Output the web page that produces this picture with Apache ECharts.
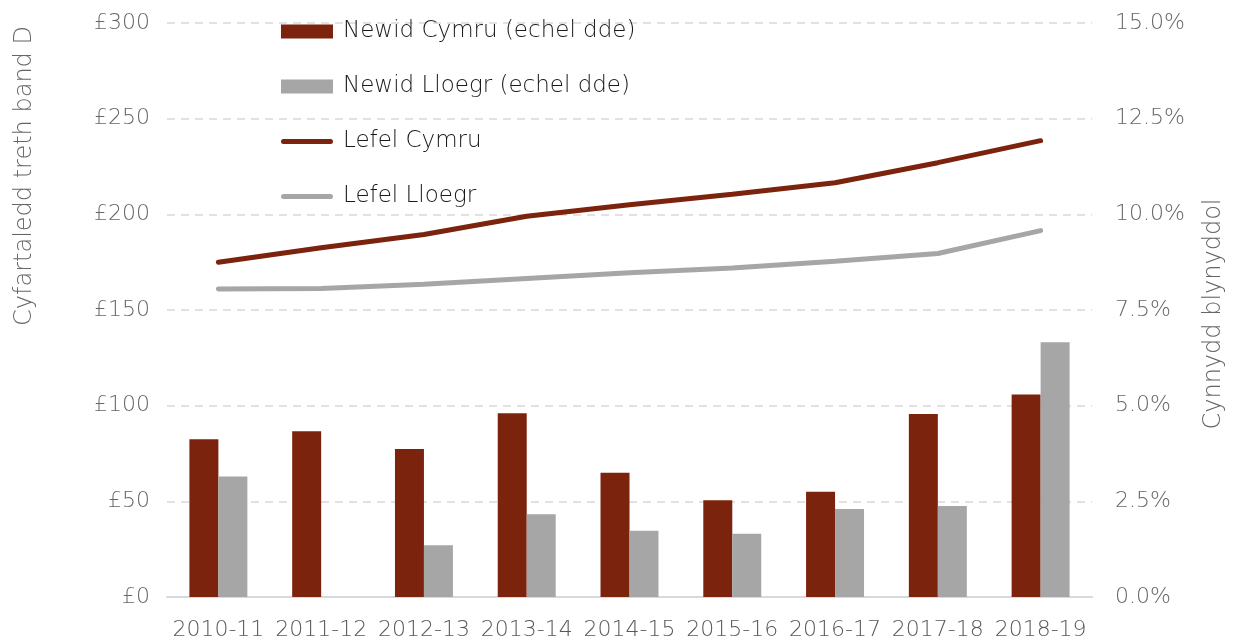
<!DOCTYPE html>
<html>
<head>
<meta charset="utf-8">
<script src="https://cdn.jsdelivr.net/npm/echarts@6/dist/echarts.min.js"></script>
<style>
  html, body { margin: 0; padding: 0; background: #fff; }
  #main { width: 1238px; height: 643px; }
</style>
</head>
<body>
<div id="main"></div>
<script>
const years = ['2010-11', '2011-12', '2012-13', '2013-14', '2014-15', '2015-16', '2016-17', '2017-18', '2018-19'];
// newid (%), echel dde
const changeWales = [4.12, 4.33, 3.87, 4.80, 3.25, 2.53, 2.75, 4.78, 5.29];
const changeEngland = [3.15, 0, 1.35, 2.16, 1.73, 1.65, 2.30, 2.38, 6.66];
// lefel (£), echel chwith
const levelWales = [175, 182.5, 189.5, 199, 205, 210.5, 216.5, 227, 238.5];
const levelEngland = [161, 161.2, 163.5, 166.5, 169.5, 172, 175.5, 179.5, 191.5];

const red = '#7B230C';
const grey = '#A6A6A6';
const font = '"DejaVu Sans", sans-serif';
const lineIcon = 'path://M0,0 L52,0 M2.5,4.5 L49.5,4.5 A2.5,2.5 0 0 1 49.5,9.5 L2.5,9.5 A2.5,2.5 0 0 1 2.5,4.5 Z M0,14 L52,14';

var chart = echarts.init(document.getElementById('main'));

chart.setOption({
    animation: false,
    textStyle: { fontFamily: font },
    grid: { left: 167, right: 146, top: 23, bottom: 46 },
    legend: {
        orient: 'vertical',
        left: 276,
        top: 15,
        itemWidth: 52,
        itemHeight: 14,
        itemGap: 32,
        itemStyle: { borderWidth: 0 },
        textStyle: { fontSize: 23, color: '#1a1a1a', fontFamily: font, fontWeight: 200, padding: [0, 0, 0, 5] },
        data: [
            { name: 'Newid Cymru (echel dde)', icon: 'rect' },
            { name: 'Newid Lloegr (echel dde)', icon: 'rect' },
            { name: 'Lefel Cymru', icon: lineIcon },
            { name: 'Lefel Lloegr', icon: lineIcon }
        ]
    },
    xAxis: {
        type: 'category',
        data: years,
        axisLine: { lineStyle: { color: '#D9D9D9', width: 2 } },
        axisTick: { show: false },
        axisLabel: { fontSize: 22, color: '#595959', fontWeight: 200, margin: 22, interval: 0, hideOverlap: false }
    },
    yAxis: [
        {
            type: 'value',
            min: 0, max: 300, interval: 50,
            axisLabel: { fontSize: 22, color: '#666', fontWeight: 200, margin: 17, formatter: v => '£' + v },
            splitLine: { lineStyle: { color: '#D9D9D9', type: [8, 6], width: 1.5 } },
            axisLine: { show: false },
            axisTick: { show: false }
        },
        {
            type: 'value',
            min: 0, max: 15, interval: 2.5,
            axisLabel: { fontSize: 22, color: '#666', fontWeight: 200, margin: 23, formatter: v => v.toFixed(1) + '%' },
            splitLine: { show: false },
            axisLine: { show: false },
            axisTick: { show: false }
        }
    ],
    graphic: [
        {
            type: 'text', x: 25, y: 176, rotation: Math.PI / 2,
            style: { text: 'Cyfartaledd treth band D', fontSize: 24, fill: '#666', fontFamily: font, fontWeight: 200, align: 'center', verticalAlign: 'middle' }
        },
        {
            type: 'text', x: 1214, y: 314, rotation: Math.PI / 2,
            style: { text: 'Cynnydd blynyddol', fontSize: 24, fill: '#666', fontFamily: font, fontWeight: 200, align: 'center', verticalAlign: 'middle' }
        }
    ],
    series: [
        {
            name: 'Newid Cymru (echel dde)',
            type: 'bar',
            yAxisIndex: 1,
            data: changeWales,
            itemStyle: { color: red },
            barGap: '0%',
            barCategoryGap: '43.6%'
        },
        {
            name: 'Newid Lloegr (echel dde)',
            type: 'bar',
            yAxisIndex: 1,
            data: changeEngland,
            itemStyle: { color: grey }
        },
        {
            name: 'Lefel Cymru',
            type: 'line',
            yAxisIndex: 0,
            data: levelWales,
            symbol: 'none',
            itemStyle: { color: red },
            lineStyle: { color: red, width: 5, cap: 'round' }
        },
        {
            name: 'Lefel Lloegr',
            type: 'line',
            yAxisIndex: 0,
            data: levelEngland,
            symbol: 'none',
            itemStyle: { color: grey },
            lineStyle: { color: grey, width: 5, cap: 'round' }
        }
    ]
});
</script>
</body>
</html>
